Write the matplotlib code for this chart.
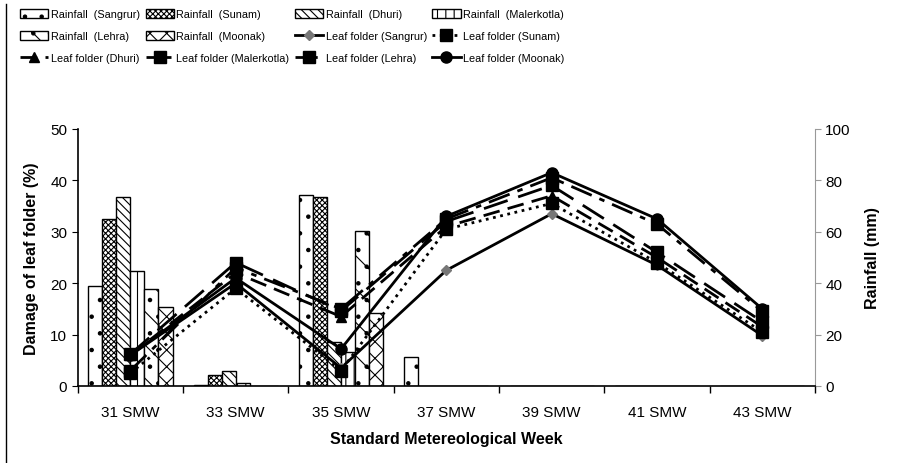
import matplotlib
matplotlib.use("Agg")
import matplotlib.pyplot as plt
from matplotlib import font_manager
from matplotlib.lines import Line2D
import numpy as np

plt.rcParams['font.family'] = ['Liberation Sans', 'DejaVu Sans']
plt.rcParams['hatch.linewidth'] = 0.8

_installed = {f.name for f in font_manager.fontManager.ttflist}
if 'Liberation Sans Narrow' in _installed:
    legend_font = dict(family=['Liberation Sans Narrow', 'DejaVu Sans'], size=9)
else:
    legend_font = dict(family=['Liberation Sans', 'DejaVu Sans'], size=7.8)

weeks = ["31 SMW", "33 SMW", "35 SMW", "37 SMW", "39 SMW", "41 SMW", "43 SMW"]
locations = ["Sangrur", "Sunam", "Dhuri", "Malerkotla", "Lehra", "Moonak"]

# Rainfall (mm), right axis
rain_sangrur = [39.0, 0.5, 74.4, 11.2, 0, 0, 0]
rain_sunam = [65.0, 4.4, 73.5, 0, 0, 0, 0]
rain_dhuri = [73.4, 5.8, 17.0, 0, 0, 0, 0]
rain_malerkotla = [44.6, 1.3, 13.3, 0, 0, 0, 0]
rain_lehra = [37.6, 0, 60.4, 0, 0, 0, 0]
rain_moonak = [30.6, 0, 28.4, 0, 0, 0, 0]

# Damage of leaf folder (%), left axis
lf_sangrur = [6.0, 20.0, 3.5, 22.5, 33.5, 23.5, 9.8]
lf_sunam = [2.5, 19.0, 3.0, 30.5, 35.5, 24.0, 10.5]
lf_dhuri = [6.0, 22.0, 13.5, 31.0, 37.0, 25.0, 11.5]
lf_malerkotla = [6.2, 24.0, 14.6, 32.0, 39.0, 26.0, 12.5]
lf_lehra = [3.0, 23.0, 15.0, 32.5, 40.5, 31.5, 14.5]
lf_moonak = [6.0, 21.0, 7.2, 33.0, 41.5, 32.5, 15.0]

rains = [rain_sangrur, rain_sunam, rain_dhuri, rain_malerkotla, rain_lehra, rain_moonak]
lfs = [lf_sangrur, lf_sunam, lf_dhuri, lf_malerkotla, lf_lehra, lf_moonak]

fig = plt.figure(figsize=(9.04, 4.64), dpi=100)
ax = fig.add_axes([0.086, 0.166, 0.8155, 0.554])
ax2 = ax.twinx()

x = np.arange(len(weeks))
bw = 0.8 / 6
hatches = ['.', 'xxxxxx', '\\\\\\\\', '||', '\\.', 'xx']
bar_handles = []
for i, (r, h) in enumerate(zip(rains, hatches)):
    b = ax2.bar(x - 0.4 + bw / 2 + i * bw, r, width=bw, facecolor='white',
                edgecolor='black', linewidth=1.0, hatch=h, zorder=1)
    bar_handles.append(b)

styles = [
    dict(ls='-', marker='D', mfc='#777777', mec='#777777', ms=5),
    dict(ls=':', marker='s', mfc='black', mec='black', ms=9),
    dict(ls=(0, (6, 3)), marker='^', mfc='black', mec='black', ms=7),
    dict(ls=(0, (9, 4)), marker='s', mfc='black', mec='black', ms=9),
    dict(ls=(0, (8, 3, 2, 3)), marker='s', mfc='black', mec='black', ms=9),
    dict(ls='-', marker='o', mfc='black', mec='black', ms=8),
]

ax.set_zorder(ax2.get_zorder() + 1)
ax.patch.set_visible(False)

line_handles = []
for v, st in zip(lfs, styles):
    l, = ax.plot(x, v, color='black', lw=2.0, **st)
    line_handles.append(l)

ax.set_xlim(-0.5, 6.5)
ax.set_ylim(0, 50)
ax2.set_ylim(0, 100)
ax.set_yticks([0, 10, 20, 30, 40, 50])
ax2.set_yticks([0, 20, 40, 60, 80, 100])
ax.set_xticks(x)
ax.set_xticklabels(weeks, fontsize=11)
ax.set_xticks(np.arange(-0.5, 7.0, 1.0), minor=True)
ax.tick_params(axis='x', which='major', length=0, pad=14)
ax.tick_params(axis='x', which='minor', length=5, direction='out', width=1)
ax.tick_params(axis='y', labelsize=11, length=4, direction='out')
ax2.tick_params(axis='y', labelsize=11, length=4, direction='out', color='#999999')

for a in (ax, ax2):
    a.spines['top'].set_visible(False)
ax.spines['right'].set_visible(False)
ax2.spines['left'].set_visible(False)
ax2.spines['right'].set_color('#999999')
ax2.spines['bottom'].set_visible(False)
ax.spines['left'].set_linewidth(1.2)
ax.spines['bottom'].set_linewidth(1.2)

ax.set_ylabel("Damage of leaf folder (%)", fontsize=11.5, fontweight='bold', labelpad=8)
ax2.set_ylabel("Rainfall (mm)", fontsize=11.5, fontweight='bold', labelpad=10)
ax.set_xlabel("Standard Metereological Week", fontsize=11.5, fontweight='bold', labelpad=8)

labels_bar = ["Rainfall  (%s)" % n for n in locations]
labels_line = ["Leaf folder (%s)" % n for n in locations]
handles = bar_handles + line_handles
labels = labels_bar + labels_line
order = []
for c in range(4):
    for r in range(3):
        order.append(r * 4 + c)
fig.legend([handles[i] for i in order], [labels[i] for i in order],
           ncol=4, loc='upper left', bbox_to_anchor=(0.014, 0.995),
           frameon=False, prop=legend_font, handlelength=2.6, handleheight=0.9,
           handletextpad=0.25, columnspacing=0.5, labelspacing=1.1,
           borderpad=0.2)

fig.add_artist(Line2D([0.0066, 0.0066], [0.0, 0.99], transform=fig.transFigure,
                      color='black', lw=1))

fig.savefig("out.png", dpi=100)
